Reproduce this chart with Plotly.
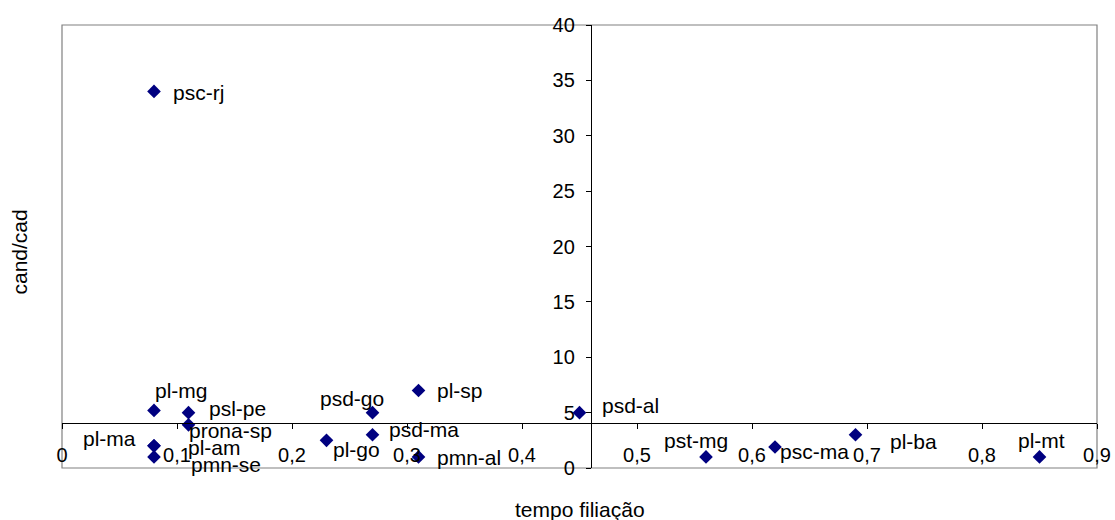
import plotly.graph_objects as go

# ---- data ----
parties = ["psc-rj", "pl-mg", "psl-pe", "prona-sp", "pl-ma", "pl-am", "pmn-se",
           "pl-go", "psd-go", "psd-ma", "pl-sp", "pmn-al", "psd-al",
           "pst-mg", "psc-ma", "pl-ba", "pl-mt"]
tempo_filiacao = [0.08, 0.08, 0.11, 0.11, 0.08, 0.08, 0.08,
                  0.23, 0.27, 0.27, 0.31, 0.31, 0.45,
                  0.56, 0.62, 0.69, 0.85]
cand_cad = [34.0, 5.2, 5.0, 3.9, 2.0, 2.0, 1.0,
            2.5, 5.0, 3.0, 7.0, 1.0, 5.0,
            1.0, 1.9, 3.0, 1.0]

x_range = [0, 0.9]
y_range = [0, 40]
x_crosses_at = 0.46   # vertical axis crosses horizontal axis here
y_crosses_at = 4.1    # horizontal axis crosses vertical axis here

# ---- label placement (pixel offsets from marker: dx to text left, dy up) ----
label_offsets = {
    "psc-rj": (18, -1), "pl-mg": (0, 20), "psl-pe": (19, 4), "prona-sp": (-1, -6),
    "pl-ma": (-72, 7), "pl-am": (33, -2), "pmn-se": (36, -8), "pl-go": (5, -9),
    "psd-go": (-54, 14), "psd-ma": (15, 5), "pl-sp": (17, 0), "pmn-al": (17, -1),
    "psd-al": (21, 7), "pst-mg": (-43, 16), "psc-ma": (4, -5), "pl-ba": (33, -7),
    "pl-mt": (-23, 16),
}

FONT = "Liberation Sans, Arial, sans-serif"

fig = go.Figure()
fig.add_trace(go.Scatter(
    x=tempo_filiacao, y=cand_cad, mode="markers",
    marker=dict(symbol="diamond", size=10.5, color="#000080",
                line=dict(width=0)),
    cliponaxis=False, hoverinfo="skip", showlegend=False,
))

annotations = []
for name, xv, yv in zip(parties, tempo_filiacao, cand_cad):
    dx, dy = label_offsets[name]
    annotations.append(dict(
        x=xv, y=yv, xref="x", yref="y", text=name, showarrow=False,
        xanchor="left", yanchor="middle", xshift=dx, yshift=dy,
        font=dict(family=FONT, size=21, color="black"), borderpad=0,
    ))

annotations.append(dict(
    text="cand/cad", xref="paper", yref="paper", x=0, y=0.5,
    xanchor="center", yanchor="middle", textangle=-90, showarrow=False,
    font=dict(family=FONT, size=21, color="black"), xshift=-43, yshift=-6,
))
annotations.append(dict(
    text="tempo filiação", xref="paper", yref="paper",
    x=(x_crosses_at - x_range[0]) / (x_range[1] - x_range[0]), y=0,
    xanchor="center", yanchor="middle", showarrow=False, yshift=-41, xshift=-11,
    font=dict(family=FONT, size=21, color="black"),
))

fig.update_layout(
    width=1115, height=520,
    margin=dict(l=62, r=18, t=25, b=52, autoexpand=False),
    paper_bgcolor="white", plot_bgcolor="white",
    separators=", ",
    font=dict(family=FONT, size=20, color="black"),
    annotations=annotations,
    shapes=[dict(type="rect", xref="paper", yref="paper", x0=0, y0=0, x1=1, y1=1,
                 line=dict(color="#808080", width=1.2), layer="below")],
    xaxis=dict(
        range=x_range, dtick=0.1, tick0=0, showgrid=False, zeroline=False,
        showline=True, linecolor="black", linewidth=1.3,
        ticks="outside", ticklen=5, tickcolor="black", tickwidth=1,
        anchor="free", automargin=False,
        position=(y_crosses_at - y_range[0]) / (y_range[1] - y_range[0]),
        ticklabelstandoff=9,
        tickfont=dict(family=FONT, size=20, color="black"),
    ),
    yaxis=dict(
        range=y_range, dtick=5, tick0=0, showgrid=False, zeroline=False,
        showline=True, linecolor="black", linewidth=1.3,
        ticks="outside", ticklen=5, tickcolor="black", tickwidth=1,
        anchor="free", automargin=False,
        position=(x_crosses_at - x_range[0]) / (x_range[1] - x_range[0]),
        ticklabelstandoff=7,
        tickfont=dict(family=FONT, size=20, color="black"),
    ),
)

fig.write_html("out.html")
